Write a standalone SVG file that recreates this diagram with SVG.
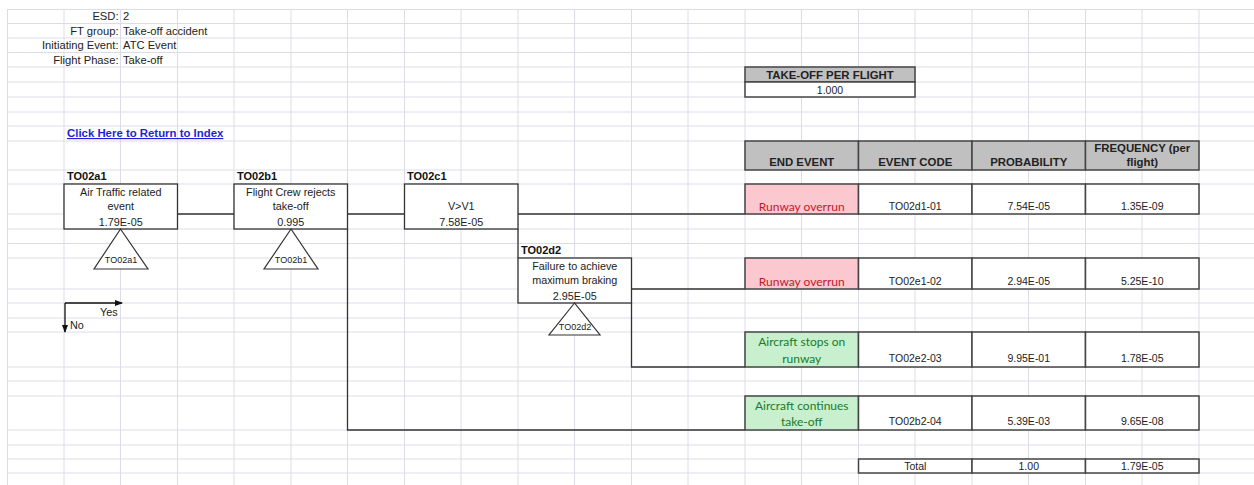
<svg xmlns="http://www.w3.org/2000/svg" width="1254" height="485" viewBox="0 0 1254 485">
  <defs>
    <marker id="arr" markerWidth="8" markerHeight="8" refX="7" refY="4" orient="auto" markerUnits="userSpaceOnUse">
      <path d="M0,1 L8,4 L0,7 Z" fill="#111"/>
    </marker>
    <style>
      .grid { stroke: #dcdce8; stroke-width: 1; fill: none; }
      .t { font-family: "Liberation Sans", Arial, sans-serif; font-size: 10.5px; fill: #222; }
      .n { font-family: "Liberation Sans", Arial, sans-serif; font-size: 10.8px; fill: #222; }
      .i { font-family: "Liberation Sans", Arial, sans-serif; font-size: 11.2px; fill: #222; }
      .b { font-family: "Liberation Sans", Arial, sans-serif; font-size: 11px; font-weight: bold; fill: #111; }
      .hd { font-family: "Liberation Sans", Arial, sans-serif; font-size: 11.4px; font-weight: bold; fill: #222; }
      .mid { text-anchor: middle; }
      .end { text-anchor: end; }
      .box { fill: #fff; stroke: #333; stroke-width: 1.3; }
      .cell { fill: #fff; stroke: #444; stroke-width: 1.5; }
      .head { fill: #c0c0c0; stroke: #444; stroke-width: 1.5; }
      .bad { fill: #fbc8cf; stroke: #444; stroke-width: 1.5; }
      .good { fill: #c8f0cf; stroke: #444; stroke-width: 1.5; }
      .badt { font-family: Lato, "Open Sans", sans-serif; font-size: 12px; fill: #c0182b; }
      .goodt { font-family: Lato, "Open Sans", sans-serif; font-size: 12px; fill: #1a7a2a; }
      .tri { fill: #fff; stroke: #333; stroke-width: 1.2; }
      .trit { font-family: "Liberation Sans", Arial, sans-serif; font-size: 9px; fill: #222; text-anchor: middle; }
      .wire { fill: none; stroke: #333; stroke-width: 1.3; }
      .leg { fill: none; stroke: #111; stroke-width: 1.3; }
      .link { font-family: "Liberation Sans", Arial, sans-serif; font-size: 11.4px; font-weight: bold; fill: #1f1fd6; text-decoration: underline; }
    </style>
  </defs>

  <rect x="0" y="0" width="1254" height="485" fill="#fff"/>

  <!-- spreadsheet cell grid -->
  <path class="grid" d="
    M7.5,9 V485 M64,9 V485 M120.5,9 V485 M177.5,9 V485 M234,9 V485 M291,9 V485
    M347.5,9 V485 M404.5,9 V485 M461,9 V485 M518,9 V485 M574.5,9 V485 M631.5,9 V485
    M688,9 V485 M745,9 V485 M801.5,9 V485 M858.5,9 V485 M915,9 V485 M972,9 V485
    M1028.5,9 V485 M1085.5,9 V485 M1142,9 V485 M1199,9 V485
    M7,9.5 H1254 M7,23.5 H1254 M7,38 H1254 M7,52.5 H1254 M7,67 H1254 M7,82 H1254
    M7,97 H1254 M7,112 H1254 M7,126 H1254 M7,141 H1254 M7,170 H1254 M7,184 H1254
    M7,214 H1254 M7,229 H1254 M7,243.5 H1254 M7,258 H1254 M7,289 H1254 M7,303 H1254
    M7,318 H1254 M7,332 H1254 M7,367 H1254 M7,381 H1254 M7,396 H1254 M7,430 H1254
    M7,445 H1254 M7,459 H1254 M7,473 H1254"/>

  <!-- sheet information -->
  <g id="info">
    <text class="i end" x="118.5" y="20">ESD:</text>
    <text class="i" x="123" y="20">2</text>
    <text class="i end" x="118.5" y="34.5">FT group:</text>
    <text class="i" x="123" y="34.5">Take-off accident</text>
    <text class="i end" x="118.5" y="49">Initiating Event:</text>
    <text class="i" x="123" y="49">ATC Event</text>
    <text class="i end" x="118.5" y="63.5">Flight Phase:</text>
    <text class="i" x="123" y="63.5">Take-off</text>
    <text class="link" x="67" y="137">Click Here to Return to Index</text>
  </g>

  <!-- take-off per flight -->
  <g id="takeoff">
    <rect class="head" x="745" y="67" width="170" height="15"/>
    <rect class="cell" x="745" y="82" width="170" height="15"/>
    <text class="hd mid" x="830" y="78.5">TAKE-OFF PER FLIGHT</text>
    <text class="t mid" x="830" y="93.5">1.000</text>
  </g>

  <!-- connectors of the event tree -->
  <g id="connectors">
    <path class="wire" d="M177.5,214 H234"/>
    <path class="wire" d="M347.5,214 H404.5"/>
    <path class="wire" d="M347.5,229 V430 H745"/>
    <path class="wire" d="M518,214 H745"/>
    <path class="wire" d="M518,229 V258"/>
    <path class="wire" d="M631.5,289 H745"/>
    <path class="wire" d="M631.5,303 V367 H745"/>
  </g>

  <!-- event tree nodes -->
  <g id="TO02a1">
    <text class="b" x="67" y="180">TO02a1</text>
    <rect class="box" x="64" y="184" width="113.5" height="45"/>
    <text class="n mid" x="120.75" y="196">Air Traffic related</text>
    <text class="n mid" x="120.75" y="210">event</text>
    <text class="n mid" x="120.75" y="226">1.79E-05</text>
    <path class="tri" d="M120.5,229 L94,269 H148 Z"/>
    <text class="trit" x="121" y="263">TO02a1</text>
  </g>

  <g id="TO02b1">
    <text class="b" x="237" y="180">TO02b1</text>
    <rect class="box" x="234" y="184" width="113.5" height="45"/>
    <text class="n mid" x="290.75" y="196">Flight Crew rejects</text>
    <text class="n mid" x="290.75" y="210">take-off</text>
    <text class="n mid" x="290.75" y="226">0.995</text>
    <path class="tri" d="M291,229 L264,269 H318 Z"/>
    <text class="trit" x="291" y="263">TO02b1</text>
  </g>

  <g id="TO02c1">
    <text class="b" x="407" y="180">TO02c1</text>
    <rect class="box" x="404.5" y="184" width="113.5" height="45"/>
    <text class="n mid" x="461.25" y="210">V&gt;V1</text>
    <text class="n mid" x="461.25" y="226">7.58E-05</text>
  </g>

  <g id="TO02d2">
    <text class="b" x="521" y="254">TO02d2</text>
    <rect class="box" x="518" y="258" width="113.5" height="45"/>
    <text class="n mid" x="574.75" y="270">Failure to achieve</text>
    <text class="n mid" x="574.75" y="284">maximum braking</text>
    <text class="n mid" x="574.75" y="300">2.95E-05</text>
    <path class="tri" d="M574.5,303 L549,335 H600 Z"/>
    <text class="trit" x="575" y="330">TO02d2</text>
  </g>

  <!-- yes / no legend -->
  <g id="legend">
    <path class="leg" d="M65,303 H122" marker-end="url(#arr)"/>
    <path class="leg" d="M65,303 V332" marker-end="url(#arr)"/>
    <text class="n" x="100" y="316">Yes</text>
    <text class="n" x="70" y="329">No</text>
  </g>

  <!-- end event table -->
  <g id="end-header">
    <rect class="head" x="745" y="141" width="113.5" height="29"/>
    <rect class="head" x="858.5" y="141" width="113.5" height="29"/>
    <rect class="head" x="972" y="141" width="113.5" height="29"/>
    <rect class="head" x="1085.5" y="141" width="113.5" height="29"/>
    <text class="hd mid" x="801.75" y="166">END EVENT</text>
    <text class="hd mid" x="915.25" y="166">EVENT CODE</text>
    <text class="hd mid" x="1028.75" y="166">PROBABILITY</text>
    <text class="hd mid" x="1142.25" y="152">FREQUENCY (per</text>
    <text class="hd mid" x="1142.25" y="166">flight)</text>
  </g>

  <g id="end-01">
    <rect class="bad" x="745" y="184" width="113.5" height="30"/>
    <rect class="cell" x="858.5" y="184" width="113.5" height="30"/>
    <rect class="cell" x="972" y="184" width="113.5" height="30"/>
    <rect class="cell" x="1085.5" y="184" width="113.5" height="30"/>
    <text class="badt mid" x="801.75" y="211">Runway overrun</text>
    <text class="t mid" x="915.25" y="210">TO02d1-01</text>
    <text class="t mid" x="1028.75" y="210">7.54E-05</text>
    <text class="t mid" x="1142.25" y="210">1.35E-09</text>
  </g>

  <g id="end-02">
    <rect class="bad" x="745" y="258" width="113.5" height="31"/>
    <rect class="cell" x="858.5" y="258" width="113.5" height="31"/>
    <rect class="cell" x="972" y="258" width="113.5" height="31"/>
    <rect class="cell" x="1085.5" y="258" width="113.5" height="31"/>
    <text class="badt mid" x="801.75" y="286">Runway overrun</text>
    <text class="t mid" x="915.25" y="285">TO02e1-02</text>
    <text class="t mid" x="1028.75" y="285">2.94E-05</text>
    <text class="t mid" x="1142.25" y="285">5.25E-10</text>
  </g>

  <g id="end-03">
    <rect class="good" x="745" y="332" width="113.5" height="35"/>
    <rect class="cell" x="858.5" y="332" width="113.5" height="35"/>
    <rect class="cell" x="972" y="332" width="113.5" height="35"/>
    <rect class="cell" x="1085.5" y="332" width="113.5" height="35"/>
    <text class="goodt mid" x="801.75" y="346">Aircraft stops on</text>
    <text class="goodt mid" x="801.75" y="363">runway</text>
    <text class="t mid" x="915.25" y="362">TO02e2-03</text>
    <text class="t mid" x="1028.75" y="362">9.95E-01</text>
    <text class="t mid" x="1142.25" y="362">1.78E-05</text>
  </g>

  <g id="end-04">
    <rect class="good" x="745" y="396" width="113.5" height="34"/>
    <rect class="cell" x="858.5" y="396" width="113.5" height="34"/>
    <rect class="cell" x="972" y="396" width="113.5" height="34"/>
    <rect class="cell" x="1085.5" y="396" width="113.5" height="34"/>
    <text class="goodt mid" x="801.75" y="410">Aircraft continues</text>
    <text class="goodt mid" x="801.75" y="426">take-off</text>
    <text class="t mid" x="915.25" y="425">TO02b2-04</text>
    <text class="t mid" x="1028.75" y="425">5.39E-03</text>
    <text class="t mid" x="1142.25" y="425">9.65E-08</text>
  </g>

  <g id="total">
    <rect class="cell" x="858.5" y="459" width="113.5" height="14"/>
    <rect class="cell" x="972" y="459" width="113.5" height="14"/>
    <rect class="cell" x="1085.5" y="459" width="113.5" height="14"/>
    <text class="t mid" x="915.25" y="470">Total</text>
    <text class="t mid" x="1028.75" y="470">1.00</text>
    <text class="t mid" x="1142.25" y="470">1.79E-05</text>
  </g>
</svg>
